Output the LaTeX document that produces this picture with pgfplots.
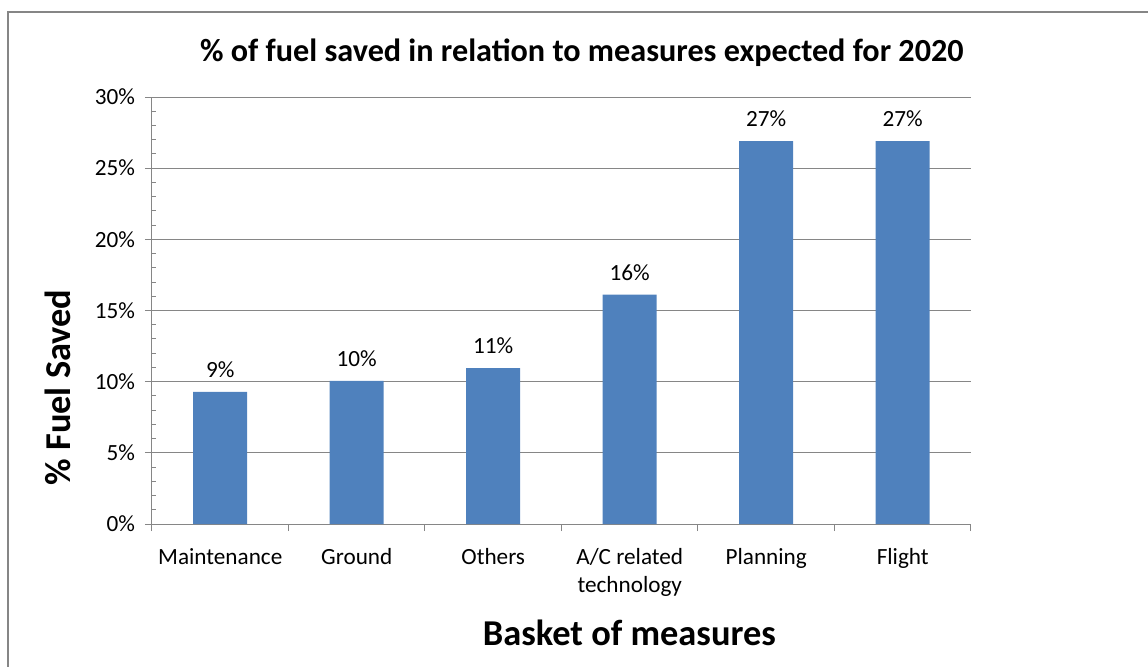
\documentclass[border=0pt]{standalone}
\usepackage{fontspec}
\setmainfont{Carlito}
\usepackage{pgfplots}
\pgfplotsset{compat=1.18}
\definecolor{barblue}{HTML}{4F81BD}
\definecolor{gridgray}{HTML}{868686}
\begin{document}
\begin{tikzpicture}
\useasboundingbox (-76pt,-71pt) rectangle (498pt,262pt);
\draw[gridgray, line width=0.9pt] (-72pt,-75pt) -- (-72pt,256pt) -- (502pt,256pt);
\begin{axis}[
  at={(0,0)}, anchor=south west,
  scale only axis, width=409.5pt, height=213.5pt,
  xmin=-0.5, xmax=5.5, ymin=0, ymax=30,
  axis lines*=left,
  axis line style={draw=gridgray, line width=0.5pt},
  ybar, bar width=27pt,
  xtick={-0.5,0.5,...,5.5}, xticklabels={},
  extra x ticks={0,1,2,3,4,5},
  extra x tick labels={Maintenance,Ground,Others,{A/C related\\technology},Planning,Flight},
  extra x tick style={major tick length=0pt},
  xticklabel style={align=center, font=\fontsize{11.6}{14}\selectfont, yshift=-8.5pt},
  ytick={0,5,...,30}, minor y tick num=4,
  ymajorgrids, major grid style={draw=gridgray, line width=0.5pt},
  tick align=outside, major tick length=3.5pt, minor tick length=2pt,
  tick style={draw=gridgray, line width=0.5pt},
  every minor tick/.append style={xshift=2pt},
  yticklabel={\pgfmathprintnumber[assume math mode=true]{\tick}\%},
  yticklabel style={font=\fontsize{11.6}{14}\selectfont, xshift=-1.5pt},
  title={\% of fuel saved in relation to measures expected for 2020},
  every axis title shift=0pt,
  title style={font=\fontsize{16.1}{19}\bfseries, at={(axis description cs:0.525,1.082)}, anchor=base},
  xlabel={Basket of measures},
  xlabel style={font=\fontsize{18.2}{21}\bfseries, at={(axis description cs:0.583,-0.2834)}, anchor=base},
  ylabel={\% Fuel Saved},
  ylabel style={font=\fontsize{18.2}{21}\bfseries, at={(axis description cs:-0.1001,0.3197)}, anchor=base, rotate=0},
  nodes near coords={\pgfmathprintnumber[assume math mode=true,fixed,precision=0]{\pgfplotspointmeta}\%},
  every node near coord/.append style={font=\fontsize{11.6}{14}\selectfont, yshift=3.5pt, text=black},
  clip=false,
]
\addplot[fill=barblue, draw=none] coordinates {(0,9.28) (1,10.05) (2,10.96) (3,16.12) (4,26.9) (5,26.9)};
\end{axis}
\end{tikzpicture}
\end{document}
